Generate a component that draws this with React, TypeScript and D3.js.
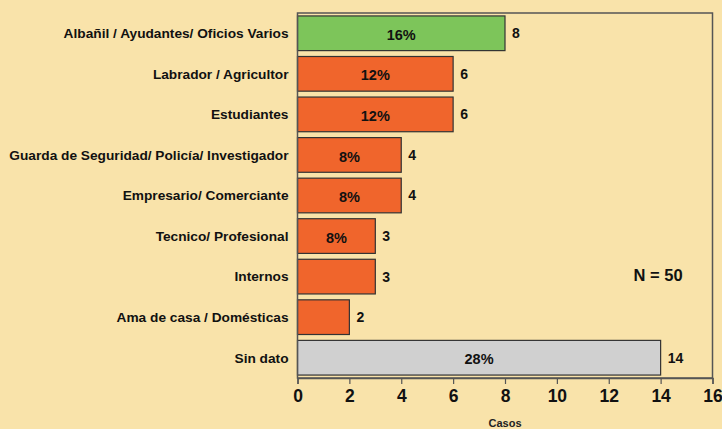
import React, { useEffect, useRef } from "react";
import * as d3 from "d3";

const categories = [
  "Albañil / Ayudantes/ Oficios Varios",
  "Labrador / Agricultor",
  "Estudiantes",
  "Guarda de Seguridad/ Policía/ Investigador",
  "Empresario/ Comerciante",
  "Tecnico/ Profesional",
  "Internos",
  "Ama de casa / Domésticas",
  "Sin dato",
];
const casos = [8, 6, 6, 4, 4, 3, 3, 2, 14];
const percentLabels = ["16%", "12%", "12%", "8%", "8%", "8%", "", "", "28%"];
const barKinds = ["top", "main", "main", "main", "main", "main", "main", "main", "none"];
const xTicks = [0, 2, 4, 6, 8, 10, 12, 14, 16];
const totalLabel = "N = 50";
const axisTitle = "Casos";

const W = 722;
const H = 429;
const BG = "#F9E3AA";
const FONT = "'Liberation Sans', Arial, Helvetica, sans-serif";
const colors: Record<string, string> = { top: "#7DC55A", main: "#F0652C", none: "#D0D0D0" };

export default function App() {
  const ref = useRef<SVGSVGElement>(null);
  useEffect(() => {
    document.body.style.margin = "0";
    const svg = d3.select(ref.current);
    svg.selectAll("*").remove();
    const left = 297.5, right = 712.5, top = 13, bottom = 378;
    const x = d3.scaleLinear().domain([0, 16]).range([left, right]);
    const y = d3.scaleBand<string>().domain(categories).range([top, bottom]).paddingInner(0.145).paddingOuter(0.0725);

    svg.append("rect").attr("width", W).attr("height", H).attr("fill", BG);

    const data = categories.map((c, i) => ({ c, v: casos[i], p: percentLabels[i], k: barKinds[i] }));

    svg.append("g").selectAll("rect").data(data).join("rect")
      .attr("x", x(0))
      .attr("y", d => y(d.c)!)
      .attr("width", d => x(d.v) - x(0))
      .attr("height", y.bandwidth())
      .attr("fill", d => colors[d.k])
      .attr("stroke", "#333")
      .attr("stroke-width", 1.2);

    svg.append("g").selectAll("text").data(data.filter(d => d.p)).join("text")
      .attr("x", d => (x(0) + x(d.v)) / 2)
      .attr("y", d => y(d.c)! + y.bandwidth() / 2 + 1.5)
      .attr("dy", "0.35em")
      .attr("text-anchor", "middle")
      .attr("font-family", FONT).attr("font-weight", "bold").attr("font-size", 14.5)
      .attr("fill", "#111")
      .text(d => d.p);

    svg.append("g").selectAll("text").data(data).join("text")
      .attr("x", d => x(d.v) + 7)
      .attr("y", d => y(d.c)! + y.bandwidth() / 2)
      .attr("dy", "0.35em")
      .attr("font-family", FONT).attr("font-weight", "bold").attr("font-size", 14)
      .attr("fill", "#111")
      .text(d => String(d.v));

    svg.append("g").selectAll("text").data(categories).join("text")
      .attr("x", left - 9)
      .attr("y", d => y(d)! + y.bandwidth() / 2)
      .attr("dy", "0.35em")
      .attr("text-anchor", "end")
      .attr("font-family", FONT).attr("font-weight", "bold").attr("font-size", 13.7)
      .attr("fill", "#111")
      .text(d => d);

    // frame
    svg.append("rect").attr("x", left).attr("y", top).attr("width", right - left).attr("height", bottom - top)
      .attr("fill", "none").attr("stroke", "#555").attr("stroke-width", 1.5);

    const xAxis = svg.append("g").attr("transform", `translate(0,${bottom})`)
      .call(d3.axisBottom(x).tickValues(xTicks).tickSize(6).tickPadding(6).tickFormat(d3.format("d")));
    xAxis.select(".domain").attr("stroke", "#555").attr("stroke-width", 1.5);
    xAxis.selectAll(".tick line").attr("stroke", "#555").attr("stroke-width", 1.2);
    xAxis.selectAll(".tick text").attr("font-family", FONT).attr("font-weight", "bold").attr("font-size", 17.5).attr("fill", "#111");

    svg.append("text").attr("x", (left + right) / 2).attr("y", 427)
      .attr("text-anchor", "middle").attr("font-family", FONT).attr("font-weight", "bold").attr("font-size", 11)
      .attr("fill", "#222").text(axisTitle);

    svg.append("text").attr("x", x(13.9)).attr("y", y("Internos")! + y.bandwidth() / 2 - 1)
      .attr("dy", "0.35em").attr("text-anchor", "middle")
      .attr("font-family", FONT).attr("font-weight", "bold").attr("font-size", 16.5)
      .attr("fill", "#111").text(totalLabel);
  }, []);
  return <svg ref={ref} width={W} height={H} style={{ display: "block" }} />;
}
